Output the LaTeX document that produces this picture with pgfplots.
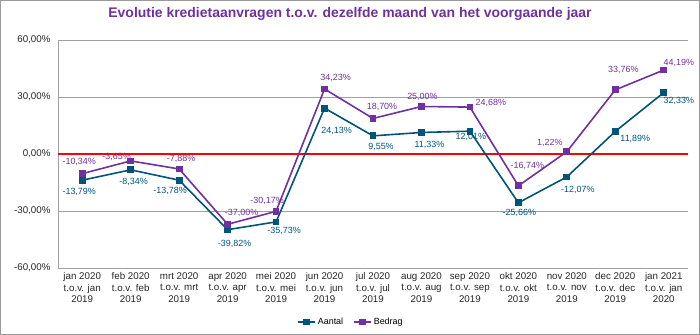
\documentclass[border=0pt]{standalone}
\usepackage{pgfplots}
\pgfplotsset{compat=1.18}
\usepackage{fontspec}
\setmainfont{Liberation Sans}
\definecolor{aantal}{RGB}{0,84,122}
\definecolor{bedrag}{RGB}{112,48,160}
\definecolor{gridc}{RGB}{160,160,160}

\pgfplotsset{lbl/.style={
  nodes near coords={\pgfmathprintnumber[fixed,zerofill,precision=2,use comma,assume math mode=true]{\pgfplotspointmeta}\%},
  visualization depends on={value \thisrow{dx}\as\mydx},
  visualization depends on={value \thisrow{dy}\as\mydy},
  every node near coord/.append style={anchor=center, xshift=\mydx bp, yshift=\mydy bp,
     font=\fontsize{9}{10}\selectfont, inner sep=0pt, text=#1}}}

\begin{document}
\begin{tikzpicture}
\begin{axis}[
  scale only axis,
  width=630bp, height=228bp,
  xmin=-0.5, xmax=12.5,
  ymin=-60, ymax=60,
  ytick={-60,-30,0,30,60},
  xtick={0,...,12},
  xticklabels={
    {jan 2020\\t.o.v. jan\\2019},
    {feb 2020\\t.o.v. feb\\2019},
    {mrt 2020\\t.o.v. mrt\\2019},
    {apr 2020\\t.o.v. apr\\2019},
    {mei 2020\\t.o.v. mei\\2019},
    {jun 2020\\t.o.v. jun\\2019},
    {jul 2020\\t.o.v. jul\\2019},
    {aug 2020\\t.o.v. aug\\2019},
    {sep 2020\\t.o.v. sep\\2019},
    {okt 2020\\t.o.v. okt\\2019},
    {nov 2020\\t.o.v. nov\\2019},
    {dec 2020\\t.o.v. dec\\2019},
    {jan 2021\\t.o.v. jan\\2020}},
  xticklabel style={align=center, font=\fontsize{9.8}{11.5}\selectfont, text=black!85, yshift=-1pt},
  yticklabel={\pgfmathprintnumber[fixed,zerofill,precision=2,use comma,assume math mode=true]{\tick}\%},
  yticklabel style={font=\fontsize{9.8}{11}\selectfont, text=black!85, xshift=-4bp},
  major tick length=0pt,
  ymajorgrids,
  grid style={gridc, line width=0.6pt},
  axis x line*=bottom,
  axis y line*=left,
  axis line style={gridc, line width=0.6pt},
  clip=false,
  legend style={at={(axis description cs:0.465,0)}, anchor=center, yshift=-54bp,
    draw=none, font=\fontsize{9}{10}\selectfont, legend columns=2,
    /tikz/every even column/.append style={column sep=8pt}},
  legend cell align=left,
]
\addplot[red, line width=1.8pt, forget plot] coordinates {(-0.5,0) (12.5,0)};
\addplot[aantal, line width=1.6pt, mark=square*, mark size=2.6pt, forget plot, lbl=aantal]
  table[x=x,y=y] {
x y dx dy
0 -13.79 -3 -12
1 -8.34 3 -12
2 -13.78 -9 -10.5
3 -39.82 7 -14
4 -35.73 8 -9.5
5 24.13 12 -23
6 9.55 8 -11
7 11.33 8 -12.5
8 12.01 1 -6
9 -25.66 1 -10.5
10 -12.07 11 -13.5
11 11.89 20 -8
12 32.33 15 -8
};
\addplot[bedrag, line width=1.6pt, mark=square*, mark size=2.6pt, forget plot, lbl=bedrag]
  table[x=x,y=y] {
x y dx dy
0 -10.34 -3 11.5
1 -3.65 -14 3.5
2 -7.88 2 10
3 -37.00 14 11.5
4 -30.17 -9 10
5 34.23 11 11
6 18.70 9 11.5
7 25.00 1 10
8 24.68 21 4
9 -16.74 9 20
10 1.22 -17 9
11 33.76 8 19.5
12 44.19 15 7.5
};
\addlegendimage{aantal, line width=1.6pt, mark=square*, mark size=2.6pt}
\addlegendentry{Aantal}
\addlegendimage{bedrag, line width=1.6pt, mark=square*, mark size=2.6pt}
\addlegendentry{Bedrag}
\end{axis}
\node[font=\bfseries\fontsize{14}{16}\selectfont, text=bedrag] at (292bp,254bp) {Evolutie kredietaanvragen t.o.v. dezelfde maand van het voorgaande jaar};
\draw[gray!80, line width=0.8pt] (-57.6bp,-66.6bp) rectangle (641.6bp,267.6bp);
\end{tikzpicture}
\end{document}
